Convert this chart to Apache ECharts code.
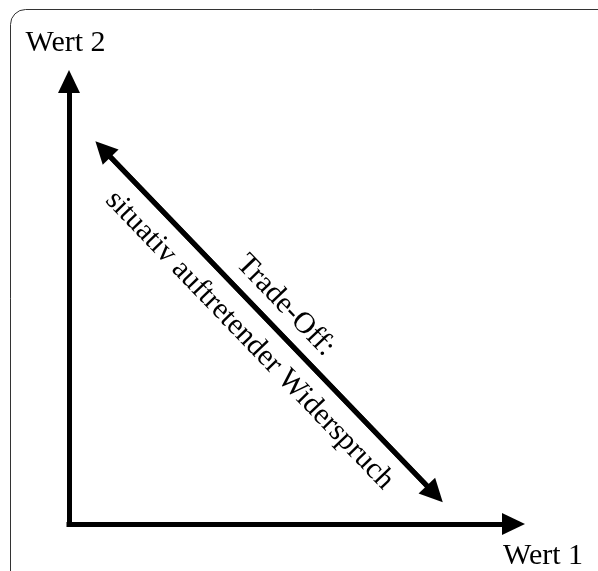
<!DOCTYPE html>
<html>
<head>
<meta charset="utf-8">
<script src="https://cdn.jsdelivr.net/npm/echarts@6/dist/echarts.min.js"></script>
<style>html,body{margin:0;padding:0;background:#fff;}#c{width:598px;height:571px;}</style>
</head>
<body>
<div id="c"></div>
<script>
// Axis titles
const axisNames = { x: 'Wert 1', y: 'Wert 2' };
// Trade-off arrow (data space, 0..100 on both axes), ends at arrowhead centres
const tradeOffStart = [7.65, 84.7];
const tradeOffEnd = [82.3, 6.8];
const labelTop = 'Trade-Off:';
const labelBottom = 'situativ auftretender Widerspruch';

const FONT = 'Liberation Serif';
const chart = echarts.init(document.getElementById('c'), null, { renderer: 'canvas' });

const axisCommon = {
  type: 'value', min: 0, max: 100,
  axisTick: { show: false }, axisLabel: { show: false }, splitLine: { show: false },
  nameLocation: 'end'
};

chart.setOption({
  animation: false,
  backgroundColor: '#fff',
  graphic: [{
    type: 'rect', silent: true, z: -10,
    shape: { x: 10.5, y: 9.5, width: 620, height: 600, r: 15 },
    style: { fill: 'none', stroke: '#333', lineWidth: 1 }
  }],
  grid: { left: 69, top: 81.5, width: 444.5, height: 444.5 },
  xAxis: Object.assign({}, axisCommon, {
    name: axisNames.x, nameGap: 29.5,
    nameTextStyle: { fontFamily: FONT, fontSize: 30, color: '#000', align: 'center', verticalAlign: 'top', padding: [17, 0, 0, 0] },
    axisLine: { show: true, symbol: ['none', 'triangle'], symbolSize: [22, 23],
      lineStyle: { color: '#000', width: 5, cap: 'square' } }
  }),
  yAxis: Object.assign({}, axisCommon, {
    name: axisNames.y, nameGap: 23.5,
    nameTextStyle: { fontFamily: FONT, fontSize: 30, color: '#000', align: 'center', verticalAlign: 'bottom', padding: [0, 7, 0, 0] },
    axisLine: { show: true, symbol: ['none', 'triangle'], symbolSize: [22, 23],
      lineStyle: { color: '#000', width: 5, cap: 'square' } }
  }),
  series: [{
    type: 'lines', coordinateSystem: 'cartesian2d',
    symbol: ['triangle', 'triangle'], symbolSize: [22, 23],
    lineStyle: { color: '#000', width: 5, opacity: 1 },
    label: { show: true, position: 'insideMiddleTop', distance: 8, formatter: labelTop,
      fontFamily: FONT, fontSize: 30, color: '#000' },
    data: [{ coords: [tradeOffStart, tradeOffEnd] }]
  }, {
    type: 'lines', coordinateSystem: 'cartesian2d',
    symbol: 'none',
    lineStyle: { color: '#000', width: 5, opacity: 1 },
    label: { show: true, position: 'insideMiddleBottom', distance: 12, formatter: labelBottom,
      fontFamily: FONT, fontSize: 30, color: '#000' },
    data: [{ coords: [tradeOffStart, tradeOffEnd] }]
  }]
});
</script>
</body>
</html>
